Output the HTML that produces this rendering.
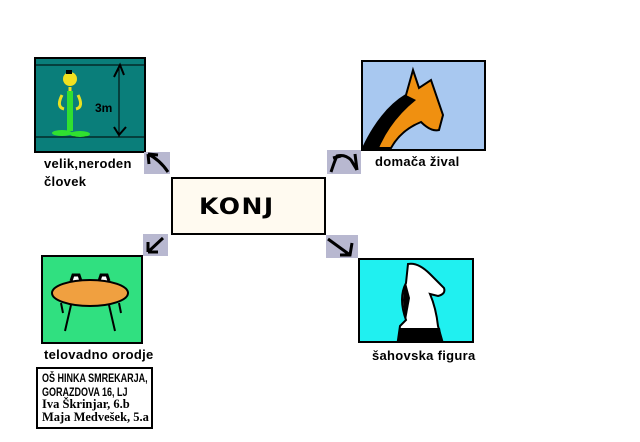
<!DOCTYPE html>
<html><head><meta charset="utf-8"><style>
body{margin:0;width:640px;height:442px;background:#fff;position:relative;overflow:hidden;font-family:"Liberation Sans",sans-serif}
.a{position:absolute}
.lbl{position:absolute;font-size:13px;font-weight:bold;color:#000;line-height:18px;letter-spacing:0.3px}
.sq{position:absolute;background:#b8b8d0}
</style></head><body>
<!-- teal -->
<div class="a" style="left:34px;top:57px;width:108px;height:92px;background:#0a7e7a;border:2px solid #000"></div>
<svg class="a" style="left:34px;top:57px" width="112" height="96">
<line x1="2" y1="8" x2="110" y2="8" stroke="#000"/>
<line x1="2" y1="80" x2="110" y2="80" stroke="#000"/>
<line x1="85" y1="8" x2="85" y2="80" stroke="#000"/>
<path d="M80 20 L86 8 L90 18 M80 70 L85 78 L92 70" stroke="#000" stroke-width="2" fill="none"/>
<circle cx="36" cy="22" r="7" fill="#f0e020"/>
<rect x="32" y="13" width="6" height="4" fill="#000"/>
<path d="M36 30 L36 72 M28 38 Q22 50 30 52 M44 38 Q50 50 42 52" stroke="#e8e020" stroke-width="3" fill="none"/>
<rect x="33" y="34" width="6" height="40" fill="#30e030"/>
<ellipse cx="28" cy="76" rx="10" ry="3" fill="#30e030"/><ellipse cx="46" cy="77" rx="10" ry="3" fill="#30e030"/>
<text x="61" y="55" font-size="12" font-weight="bold" font-family="Liberation Sans">3m</text>
</svg>
<div class="lbl" style="left:44px;top:155px">velik,neroden<br>človek</div>
<!-- horse -->
<div class="a" style="left:361px;top:60px;width:121px;height:87px;background:#a8c8f0;border:2px solid #000"></div>
<svg class="a" style="left:361px;top:60px" width="124" height="91">
<path d="M2 88 Q20 50 45 35 L52 10 L58 28 L70 20 L82 55 L78 70 Q70 72 60 62 Q40 70 30 88 Z" fill="#f09010" stroke="#000" stroke-width="2"/>
<path d="M2 88 Q20 50 45 35 L55 40 Q30 60 18 88Z" fill="#000"/>
</svg>
<div class="lbl" style="left:375px;top:153px">domača žival</div>
<!-- center -->
<div class="a" style="left:171px;top:177px;width:151px;height:54px;background:#fffaf0;border:2px solid #000"></div>
<div class="a" style="left:199px;top:192px;font-size:25px;font-weight:bold;letter-spacing:1.5px;font-family:'DejaVu Sans',sans-serif;transform:scaleY(0.9)">KONJ</div>
<!-- arrows -->
<div class="sq" style="left:144px;top:152px;width:26px;height:22px"></div>
<svg class="a" style="left:144px;top:152px" width="26" height="22"><path d="M24 20 Q16 8 4 2 M4 2 L5 12 M4 2 L14 3" stroke="#000" stroke-width="3" fill="none"/></svg>
<div class="sq" style="left:327px;top:150px;width:34px;height:24px"></div>
<svg class="a" style="left:327px;top:150px" width="34" height="24"><path d="M4 22 Q8 10 10 6 Q18 4 24 10 L30 20 M28 4 L30 20 M6 8 L14 6" stroke="#000" stroke-width="3" fill="none"/></svg>
<div class="sq" style="left:143px;top:234px;width:25px;height:22px"></div>
<svg class="a" style="left:143px;top:234px" width="25" height="22"><path d="M20 4 L5 18 M5 18 L5 8 M5 18 L15 18" stroke="#000" stroke-width="3" fill="none"/></svg>
<div class="sq" style="left:326px;top:235px;width:32px;height:23px"></div>
<svg class="a" style="left:326px;top:235px" width="32" height="23"><path d="M2 4 L24 20 M14 20 L24 20 L26 8" stroke="#000" stroke-width="3" fill="none"/></svg>
<!-- green -->
<div class="a" style="left:41px;top:255px;width:98px;height:85px;background:#30e080;border:2px solid #000"></div>
<svg class="a" style="left:41px;top:255px" width="102" height="89">
<path d="M30 26 L32 20 L38 20 L40 26 M58 26 L60 20 L66 20 L68 26" stroke="#000" stroke-width="3" fill="#fff"/>
<ellipse cx="49" cy="38" rx="38" ry="13" fill="#f0a040" stroke="#000" stroke-width="2"/>
<path d="M30 50 L24 76 M68 50 L74 76 M20 48 L22 58 M78 48 L80 58" stroke="#000" stroke-width="2"/>
</svg>
<div class="lbl" style="left:44px;top:346px">telovadno orodje</div>
<!-- cyan -->
<div class="a" style="left:358px;top:258px;width:112px;height:81px;background:#20f0f0;border:2px solid #000"></div>
<svg class="a" style="left:358px;top:258px" width="116" height="85">
<path d="M40 82 L42 68 L48 62 Q40 40 48 25 L50 6 Q60 4 72 16 L86 30 Q88 36 80 38 L72 36 Q78 50 80 68 L84 82 Z" fill="#fff" stroke="#000" stroke-width="2"/>
<path d="M40 82 L42 70 L82 70 L84 82Z" fill="#000"/>
<path d="M48 25 Q42 40 48 62 L52 40Z" fill="#000"/>
</svg>
<div class="lbl" style="left:372px;top:347px">šahovska figura</div>
<!-- credit -->
<div class="a" style="left:36px;top:367px;width:113px;height:58px;border:2px solid #000;background:#fff"></div>
<div class="a" style="left:42px;top:371px;font-family:'Liberation Sans Narrow','Liberation Sans',sans-serif;font-size:12px;font-weight:bold;line-height:14px;transform:scaleX(0.75);transform-origin:left;white-space:nowrap">OŠ HINKA SMREKARJA,<br>GORAZDOVA 16, LJ</div>
<div class="a" style="left:42px;top:398px;font-family:'Liberation Serif',serif;font-size:12.5px;font-weight:bold;line-height:13px">Iva Škrinjar, 6.b<br>Maja Medvešek, 5.a</div>
</body></html>
